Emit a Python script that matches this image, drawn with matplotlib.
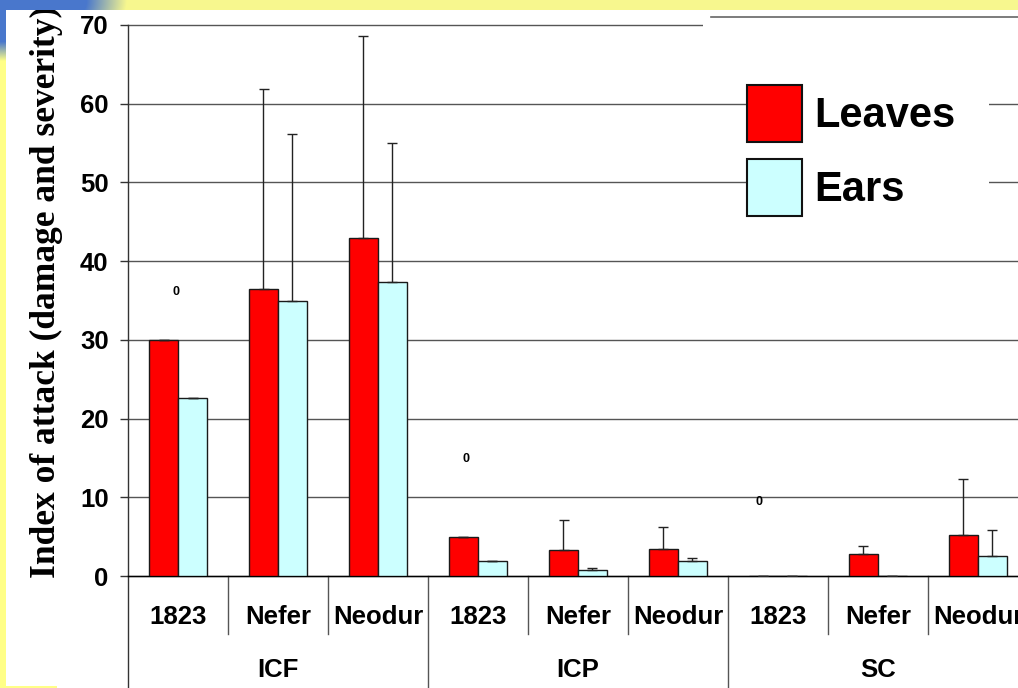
import numpy as np
import matplotlib
matplotlib.use("Agg")
import matplotlib.pyplot as plt
from matplotlib.patches import Patch, Rectangle
from matplotlib.lines import Line2D
from matplotlib.transforms import Affine2D

# ---- data -------------------------------------------------------------
groups = ["ICF", "ICP", "SC"]
varieties = ["1823", "Nefer", "Neodur"]
leaves = [30.0, 36.5, 43.0, 4.9, 3.3, 3.4, 0.0, 2.75, 5.2]
ears = [22.6, 35.0, 37.4, 1.9, 0.7, 1.9, 0.0, 0.0, 2.6]
leaves_sd = [0.0, 25.4, 25.6, 0.0, 3.85, 2.8, 0.0, 1.1, 7.1]
ears_sd = [0.0, 21.2, 17.6, 0.0, 0.36, 0.4, 0.0, 0.0, 3.3]
series_names = ["Leaves", "Ears"]
y_ticks = [0, 10, 20, 30, 40, 50, 60, 70]
zero_labels = [(0.48, 36.1), (3.38, 14.9), (6.31, 9.4)]

RED = "#FF0000"
CYAN = "#CCFFFF"

plt.rcParams["font.family"] = ["Liberation Sans", "DejaVu Sans"]

W, H = 1018, 688
fig = plt.figure(figsize=(W / 100, H / 100), dpi=100)
fig.patch.set_facecolor("white")

# pixel (from top-left) -> display transform
px = Affine2D().scale(1 / W, -1 / H).translate(0, 1) + fig.transFigure

# ---- slide background ------------------------------------------------
yy, xx = np.mgrid[0:H, 0:W].astype(float)
img = np.zeros((H, W, 3))
img[:] = (1.0, 1.0, 0.53)
top = yy < 10
img[top] = (0.97, 0.97, 0.56)
blue = np.array([0.29, 0.47, 0.80])
r = np.sqrt((xx / 115.0) ** 2 + (yy / 55.0) ** 2)
wb = np.clip((1.1 - r) / 0.35, 0, 1)[..., None]
img = img * (1 - wb) + blue * wb
img[10:, 6:] = 1.0
img[686:, :57] = (1.0, 1.0, 0.53)

bg = fig.add_axes([0, 0, 1, 1], zorder=-5)
bg.imshow(img, extent=(0, W, H, 0), aspect="auto", interpolation="bilinear")
bg.set_xlim(0, W)
bg.set_ylim(H, 0)
bg.axis("off")

# ---- main chart ------------------------------------------------------
ax = fig.add_axes([128 / W, (H - 576) / H, 900 / W, 551 / H], zorder=1)
ax.patch.set_alpha(0)
n = len(leaves)
x = np.arange(n) + 0.5
bw = 0.29
off = 0.145

ax.bar(x - off, leaves, width=bw, color=RED, edgecolor="#1a1a1a", linewidth=1, zorder=3)
ax.bar(x + off, ears, width=bw, color=CYAN, edgecolor="#1a1a1a", linewidth=1, zorder=3)
ax.errorbar(x - off, leaves, yerr=[np.zeros(n), leaves_sd], fmt="none", ecolor="#222222",
            elinewidth=1, capsize=3.5, capthick=1, zorder=4)
ax.errorbar(x + off, ears, yerr=[np.zeros(n), ears_sd], fmt="none", ecolor="#222222",
            elinewidth=1, capsize=3.5, capthick=1, zorder=4)

ax.set_xlim(0, n)
ax.set_ylim(0, 70)
ax.set_yticks(y_ticks)
ax.set_xticks([])
ax.yaxis.grid(True, color="#555555", linewidth=1)
ax.set_axisbelow(True)
for gl in ax.get_ygridlines():
    gl.set_clip_on(False)

for s in ("top", "right"):
    ax.spines[s].set_visible(False)
ax.spines["bottom"].set_color("black")
ax.spines["bottom"].set_linewidth(1)
ax.spines["left"].set_color("#333333")
ax.spines["left"].set_linewidth(1)
ax.tick_params(axis="y", length=6, width=1, color="#333333", pad=8, labelsize=18.5)
for lab in ax.get_yticklabels():
    lab.set_fontweight("bold")

# category axis: two rows of labels with separators
xt = ax.get_xaxis_transform()
y_var = (576 - 617) / 551
y_grp = (576 - 670) / 551
y_short = (576 - 634) / 551
y_long = (576 - 690) / 551
ax.add_line(Line2D([0, 0], [0, y_long], transform=xt, color="#333333", lw=1, clip_on=False))
for i in range(1, n):
    y_end = y_long if i % len(varieties) == 0 else y_short
    ax.add_line(Line2D([i, i], [0, y_end], transform=xt, color="#555555", lw=1, clip_on=False))
for i in range(n):
    ax.text(x[i], y_var, varieties[i % len(varieties)], transform=xt, ha="center", va="center",
            fontsize=18.5, fontweight="bold", clip_on=False)
for g, name in enumerate(groups):
    ax.text(g * len(varieties) + len(varieties) / 2, y_grp, name, transform=xt, ha="center",
            va="center", fontsize=18.5, fontweight="bold", clip_on=False)

for zx, zy in zero_labels:
    ax.text(zx, zy, "0", ha="center", va="center", fontsize=9, fontweight="bold", zorder=5)

# white box behind the legend and the box at the top right
ax.add_patch(Rectangle((747, 70), 242, 160, transform=px, facecolor="white",
                       edgecolor="none", zorder=2, clip_on=False))
ax.add_patch(Rectangle((703, 17), 330, 25, transform=px, facecolor="white",
                       edgecolor="none", zorder=2, clip_on=False))
ax.add_line(Line2D([711, 1030], [17, 17], transform=px, color="#666666", lw=1.2,
                   zorder=2, clip_on=False))

handles = [Patch(facecolor=RED, edgecolor="#111111", linewidth=1.5),
           Patch(facecolor=CYAN, edgecolor="#111111", linewidth=1.5)]
leg = ax.legend(handles, series_names, loc="upper left",
                bbox_to_anchor=(747 / W, 1 - 85 / H), bbox_transform=fig.transFigure,
                frameon=False, borderpad=0, borderaxespad=0, handlelength=1.32,
                handleheight=1.73, handletextpad=0.3, labelspacing=0.4,
                prop={"size": 30, "weight": "bold"})
leg.set_zorder(6)

fig.text(46 / W, 1 - 292 / H, "Index of attack (damage and severity)", rotation=90,
         ha="center", va="center", fontsize=25.5, family="Liberation Serif",
         fontweight="bold", zorder=5)

# top band of the slide drawn over the chart
ov = fig.add_axes([0, 1 - 10 / H, 1, 10 / H], zorder=20)
ov.imshow(img[:10], extent=(0, W, 10, 0), aspect="auto", interpolation="bilinear")
ov.set_xlim(0, W)
ov.set_ylim(10, 0)
ov.axis("off")

fig.savefig("out.png", dpi=100)
